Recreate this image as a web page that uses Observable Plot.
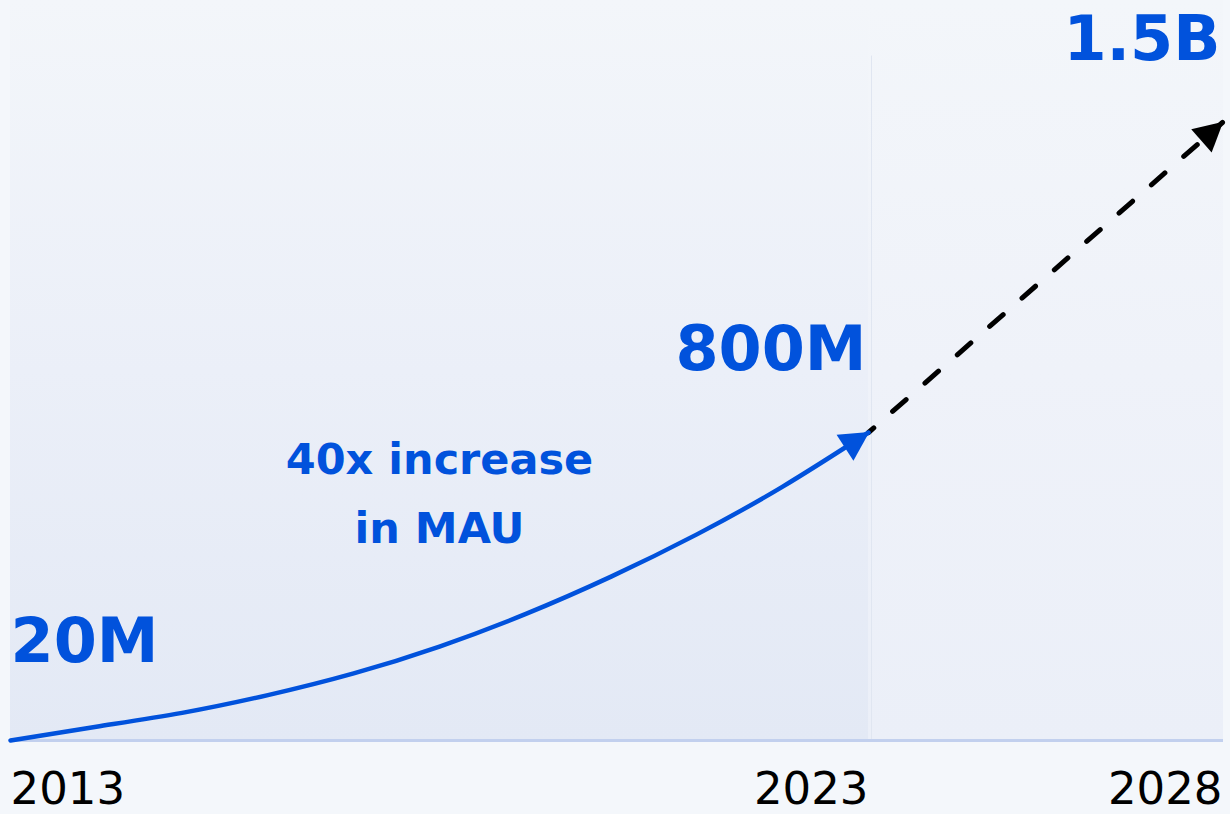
<!DOCTYPE html>
<html>
<head>
<meta charset="utf-8">
<script src="https://cdn.jsdelivr.net/npm/d3@7"></script>
<script src="https://cdn.jsdelivr.net/npm/@observablehq/plot@0.6"></script>
<style>
  html, body { margin: 0; padding: 0; background: #f4f7fb; }
  #chart svg { display: block; }
</style>
</head>
<body>
<div id="chart"></div>
<script>
// Actual MAU (millions), 2013–2023
const years = [2013, 2014, 2015, 2016, 2017, 2018, 2019, 2020, 2021, 2022, 2023];
const mau = [20, 55, 90, 135, 190, 258, 340, 435, 542, 663, 800];
// Forecast
const forecastYears = [2023, 2028];
const forecastMau = [800, 1500];
// Labels
const tickYears = [2013, 2023, 2028];
const valueLabels = ["20M", "800M", "1.5B"];
const valueLabelYears = [2013, 2023, 2028];
const valueLabelMau = [20, 800, 1500];
const annotation = "40x increase\nin MAU";
const annotationYear = 2018;
const annotationMau = 265;

const BLUE = "#0152dc";

const actual = years.map((y, i) => ({year: y, mau: mau[i]}));
const forecast = forecastYears.map((y, i) => ({year: y, mau: forecastMau[i]}));
const labels = valueLabels.map((t, i) => ({text: t, year: valueLabelYears[i], mau: valueLabelMau[i]}));

// piecewise (non-uniform) position scales, as in the original graphic
const xPos = d3.scaleLinear().domain([2013, 2023, 2028]).range([10, 868, 1222]);
const yPos = d3.scaleLinear().domain([20, 800, 1500]).range([740, 432, 122]);

function arrowHead(color, context) {
  const ns = "http://www.w3.org/2000/svg";
  const doc = (context && context.document) || document;
  const m = doc.createElementNS(ns, "marker");
  m.setAttribute("viewBox", "-29 -16 31 32");
  m.setAttribute("markerWidth", "31");
  m.setAttribute("markerHeight", "32");
  m.setAttribute("markerUnits", "userSpaceOnUse");
  m.setAttribute("orient", "auto");
  m.setAttribute("refX", "0");
  m.setAttribute("refY", "0");
  const p = doc.createElementNS(ns, "path");
  p.setAttribute("d", "M-28,-15.5L1,0L-28,15.5Z");
  p.setAttribute("fill", color);
  p.setAttribute("stroke", "none");
  m.appendChild(p);
  return m;
}

function gradients() {
  const ns = "http://www.w3.org/2000/svg";
  const defs = document.createElementNS(ns, "defs");
  const mk = (id, stops) => {
    const g = document.createElementNS(ns, "linearGradient");
    g.setAttribute("id", id);
    g.setAttribute("x1", "0"); g.setAttribute("y1", "0");
    g.setAttribute("x2", "0"); g.setAttribute("y2", "1");
    for (const [o, c] of stops) {
      const s = document.createElementNS(ns, "stop");
      s.setAttribute("offset", o);
      s.setAttribute("stop-color", c);
      g.appendChild(s);
    }
    defs.appendChild(g);
  };
  mk("gLeft", [["0", "#f3f6fa"], ["0.5", "#ebeff8"], ["1", "#e3e9f5"]]);
  mk("gRight", [["0", "#f3f6fa"], ["0.5", "#eff2f9"], ["1", "#ebeff8"]]);
  return defs;
}

const chart = Plot.plot({
  width: 1230,
  height: 814,
  marginTop: 0,
  marginRight: 0,
  marginBottom: 74,
  marginLeft: 0,
  style: {background: "#f4f7fb", fontFamily: "DejaVu Sans"},
  x: {type: "identity", transform: xPos, axis: null},
  y: {type: "identity", transform: yPos, axis: null},
  marks: [
    gradients,
    Plot.rect([{a: 2013, b: 2023}], {x1: "a", x2: "b", fill: "url(#gLeft)"}),
    Plot.rect([{a: 2023, b: 2028}], {x1: "a", x2: "b", fill: "url(#gRight)", insetRight: -1}),
    Plot.ruleX([2023], {stroke: "#e0e6f1", strokeWidth: 1, dx: 3, y1: 20, y2: 1650}),
    Plot.ruleY([20], {x1: 2013, x2: 2028, stroke: "#c2d0ee", strokeWidth: 3, insetRight: -1}),
    Plot.line(forecast, {
      x: "year", y: "mau", stroke: "#000", strokeWidth: 5,
      strokeDasharray: "18,25", strokeDashoffset: 11, markerEnd: arrowHead
    }),
    Plot.line(actual, {
      x: "year", y: "mau", stroke: BLUE, strokeWidth: 4.5,
      curve: "natural", markerEnd: arrowHead
    }),
    Plot.text(labels.slice(0, 1), {
      x: "year", y: "mau", text: "text", textAnchor: "start", lineAnchor: "bottom",
      dy: -79, fill: BLUE, fontSize: 62, fontWeight: "bold"
    }),
    Plot.text(labels.slice(1), {
      x: "year", y: "mau", text: "text", textAnchor: "end", lineAnchor: "bottom",
      dy: -63, dx: -2, fill: BLUE, fontSize: 62, fontWeight: "bold"
    }),
    Plot.text([{year: annotationYear, mau: annotationMau, text: annotation}], {
      x: "year", y: "mau", text: "text", textAnchor: "middle", lineAnchor: "bottom",
      dy: -101, fill: BLUE, fontSize: 43, fontWeight: "bold", lineHeight: 1.6
    }),
    Plot.text(tickYears.slice(0, 1), {
      x: d => d, frameAnchor: "bottom", text: d => String(d), textAnchor: "start",
      lineAnchor: "bottom", dy: 63, fill: "#000", fontSize: 45
    }),
    Plot.text(tickYears.slice(1), {
      x: d => d, frameAnchor: "bottom", text: d => String(d), textAnchor: "end",
      lineAnchor: "bottom", dy: 63, fill: "#000", fontSize: 45
    })
  ]
});
document.getElementById("chart").appendChild(chart);
</script>
</body>
</html>
